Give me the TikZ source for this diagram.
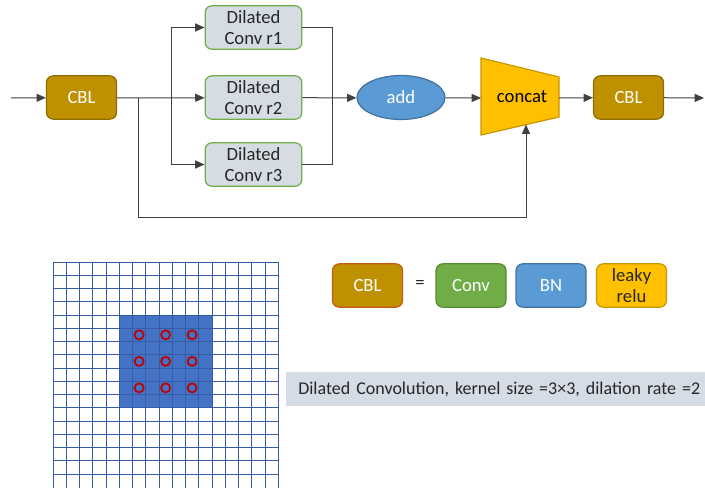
\documentclass[tikz,border=0pt]{standalone}
\usepackage{fontspec}
\setmainfont{Carlito}
\definecolor{cblgold}{RGB}{191,144,0}
\definecolor{cbldark}{RGB}{143,108,0}
\definecolor{cblred}{RGB}{197,90,17}
\definecolor{dilfill}{RGB}{214,220,228}
\definecolor{green}{RGB}{112,173,71}
\definecolor{greendark}{RGB}{84,140,50}
\definecolor{blue}{RGB}{91,155,213}
\definecolor{bluedark}{RGB}{65,113,156}
\definecolor{yellow}{RGB}{255,192,0}
\definecolor{yellowdark}{RGB}{200,150,0}
\definecolor{kernel}{RGB}{68,114,196}
\definecolor{gridblue}{RGB}{55,92,165}
\definecolor{dotred}{RGB}{192,0,0}
\definecolor{capfill}{RGB}{214,220,229}
\definecolor{textgray}{RGB}{38,38,38}
\usetikzlibrary{arrows.meta,shapes.geometric,positioning}

\begin{document}
\begin{tikzpicture}[x=0.75pt,y=-0.75pt,
    every node/.style={font=\fontsize{14}{16}\selectfont, align=center, inner sep=0pt},
    box/.style={draw, rounded corners=5pt, line width=0.9pt, minimum width=52.5pt, minimum height=32.5pt},
    cbl/.style={box, fill=cblgold, draw=cbldark, text=white},
    dil/.style={box, fill=dilfill, draw=green, text=textgray, minimum width=72.5pt},
    link/.style={draw=black!75, line width=0.75pt},
    arr/.style={link, -{Triangle[length=7pt,width=6pt]}}]
    \useasboundingbox (0,0) rectangle (705,488);
    % top row
    \coordinate (in) at (11,98);
    \node[cbl] (cbl1) at (81.5,97.5) {CBL};
    \node[dil] (r1) at (253.5,27.5) {Dilated\\Conv r1};
    \node[dil] (r2) at (253.5,97.5) {Dilated\\Conv r2};
    \node[dil] (r3) at (253.5,164.5) {Dilated\\Conv r3};
    \node[ellipse, draw=bluedark, fill=blue, text=white, line width=0.9pt,
          minimum width=66pt, minimum height=33pt] (add) at (401,97.5) {add};
    \draw[fill=yellow, draw=yellowdark, line width=0.9pt]
        (481,58) coordinate (catul) -- (559,77) -- (559,117) -- (481,135) -- cycle;
    \coordinate (catin) at (481,98);
    \coordinate (catout) at (559,98);
    \coordinate (catbot) at (526,124.6);
    \node (concat) at (522,97) {concat};
    \node[cbl] (cbl2) at (628.5,97.5) {CBL};
    \coordinate (out) at (704,98);
    \coordinate (split) at (138,98);
    \coordinate (fan) at (171,98);
    \coordinate (merge) at (332,98);
    % connectors
    \draw[arr] (in) -- (cbl1);
    \draw[link] (cbl1) -- (split) -- (fan);
    \draw[arr] (fan) -- (r2);
    \draw[arr] (fan) |- (r1);
    \draw[arr] (fan) |- (r3);
    \draw[link] (r1.east) -| (merge);
    \draw[link] (r3.east) -| (merge);
    \draw[link] (r2.east) -- (merge);
    \draw[arr] (merge) -- (add);
    \draw[arr] (add) -- (catin);
    \draw[arr] (catout) -- (cbl2);
    \draw[arr] (cbl2) -- (out);
    \draw[arr] (split) -- (138,217) -| (catbot);
    % kernel grid
    \fill[kernel] (119.25,315) rectangle (212,407.75);
    \foreach \i in {0,...,17}
        \draw[gridblue, line width=0.7pt] (53+\i*13.25,262) -- (53+\i*13.25,488);
    \foreach \j in {0,...,16}
        \draw[gridblue, line width=0.7pt] (53,262+\j*13.25) -- (278.25,262+\j*13.25);
    \foreach \i in {6,8,10}
        \foreach \j in {5,7,9}
            \draw[dotred, line width=1.3pt] (53+\i*13.25+6.625,262+\j*13.25+6.625) circle (3.4pt);
    % legend
    \node[cbl, draw=cblred] (lcbl) at (367.5,285.5) {CBL};
    \node[text=textgray] (eq) at (420,284) {=};
    \node[box, fill=green, draw=greendark, text=white] (lconv) at (471,285.5) {Conv};
    \node[box, fill=blue, draw=bluedark, text=white] (lbn) at (551,285.5) {BN};
    \node[box, fill=yellow, draw=yellowdark, text=textgray] (lrelu) at (631.5,285.5) {leaky\\relu};
    \node[fill=capfill, anchor=west, minimum height=25pt, text width=320pt, align=left,
          inner xsep=9pt, text=textgray, font=\fontsize{13.5}{16}\selectfont] (caption) at (286,389)
        {Dilated Convolution, kernel size =3×3, dilation rate =2};
\end{tikzpicture}
\end{document}
